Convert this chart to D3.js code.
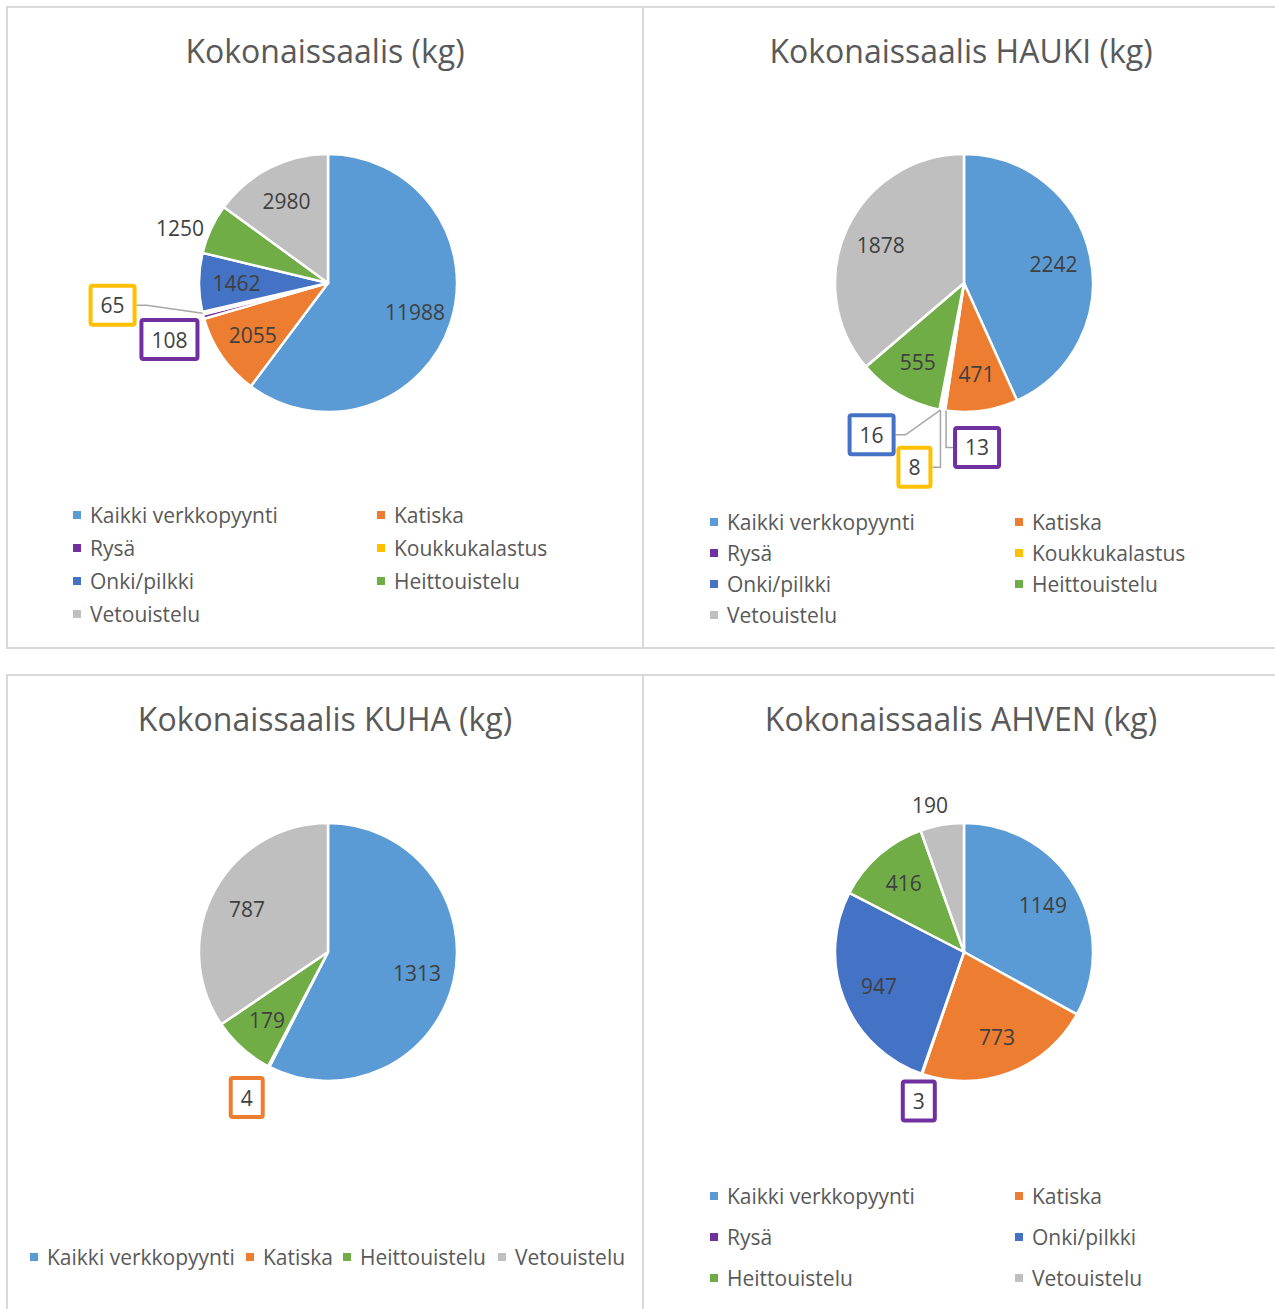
<!DOCTYPE html>
<html>
<head>
<meta charset="utf-8">
<script src="https://cdn.jsdelivr.net/npm/d3@7"></script>
<style>
  body { margin: 0; background: #ffffff; }
  svg text { font-family: "Open Sans", sans-serif; }
</style>
</head>
<body>
<svg id="chart" width="1275" height="1309"></svg>
<script>
// categories and colors shared by all four pies
const categories = [
  "Kaikki verkkopyynti",
  "Katiska",
  "Rysä",
  "Koukkukalastus",
  "Onki/pilkki",
  "Heittouistelu",
  "Vetouistelu",
];
const categoryColors = [
  "#5b9bd5",
  "#ed7d31",
  "#7030a0",
  "#ffc000",
  "#4472c4",
  "#70ad47",
  "#bfbfbf",
];

// values per chart (null = category not in chart)
const totalValues = [11988, 2055, 108, 65, 1462, 1250, 2980];
const haukiValues = [2242, 471, 13, 8, 16, 555, 1878];
const kuhaValues = [1313, 4, null, null, null, 179, 787];
const ahvenValues = [1149, 773, 3, null, 947, 416, 190];

const titles = [
  "Kokonaissaalis (kg)",
  "Kokonaissaalis HAUKI (kg)",
  "Kokonaissaalis KUHA (kg)",
  "Kokonaissaalis AHVEN (kg)",
];

const svg = d3.select("#chart");
const radius = 129;

// panel layout
const panels = [
  {
    values: totalValues,
    title: titles[0],
    box: [7, 7, 636, 641],
    cx: 328,
    cy: 283,
    legend: { cols: [77, 381], rows: [515, 548, 581, 614], order: [0, 1, 2, 3, 4, 5, 6] },
    // callouts: offset of label center from slice edge point
    callouts: {
      2: { dx: -34, dy: 23, box: true },
      3: { dx: -90, dy: -8, box: true, leader: "elbow" },
      5: { dx: -31, dy: -1, box: false },
    },
  },
  {
    values: haukiValues,
    title: titles[1],
    box: [643, 7, 633, 641],
    cx: 964,
    cy: 283,
    legend: { cols: [714, 1019], rows: [522, 553, 584, 615], order: [0, 1, 2, 3, 4, 5, 6] },
    callouts: {
      2: { dx: 33, dy: 37, box: true, leader: "down", lx: 2 },
      3: { dx: -28, dy: 57, box: true, leader: "down", lx: -2 },
      4: { dx: -69, dy: 25, box: true, leader: "elbow" },
    },
  },
  {
    values: kuhaValues,
    title: titles[2],
    box: [7, 675, 636, 636],
    cx: 328,
    cy: 952,
    legend: {
      inline: [34, 250, 347, 502],
      rows: [1257],
      order: [0, 1, 5, 6],
    },
    callouts: {
      1: { dx: -22, dy: 31, box: true },
    },
  },
  {
    values: ahvenValues,
    title: titles[3],
    box: [643, 675, 633, 636],
    cx: 964,
    cy: 952,
    legend: { cols: [714, 1019], rows: [1196, 1237, 1278], order: [0, 1, 2, 4, 5, 6] },
    callouts: {
      2: { dx: -3, dy: 27, box: true },
      6: { dx: -12, dy: -20, box: false },
    },
  },
];

const pie = d3
  .pie()
  .value((d) => d.value)
  .sort(null);

const arc = d3.arc().innerRadius(0).outerRadius(radius);
const labelArc = d3
  .arc()
  .innerRadius(radius * 0.71)
  .outerRadius(radius * 0.71);

panels.forEach((p) => {
  const g = svg.append("g");

  // panel frame
  g.append("rect")
    .attr("x", p.box[0])
    .attr("y", p.box[1])
    .attr("width", p.box[2])
    .attr("height", p.box[3])
    .attr("fill", "#ffffff")
    .attr("stroke", "#d9d9d9")
    .attr("stroke-width", 2);

  // title
  g.append("text")
    .attr("x", p.cx - 3)
    .attr("y", p.box[1] + 43)
    .attr("text-anchor", "middle")
    .attr("dominant-baseline", "central")
    .attr("font-size", "32px")
    .attr("fill", "#595959")
    .text(p.title);

  const data = p.values
    .map((v, i) => ({ value: v, index: i }))
    .filter((d) => d.value !== null);

  const pieG = g.append("g").attr("transform", `translate(${p.cx},${p.cy})`);
  const arcs = pie(data);

  pieG
    .selectAll("path")
    .data(arcs)
    .enter()
    .append("path")
    .attr("d", arc)
    .attr("fill", (d) => categoryColors[d.data.index])
    .attr("stroke", "#ffffff")
    .attr("stroke-width", 2.5)
    .attr("stroke-linejoin", "round");

  arcs.forEach((d) => {
    const c = p.callouts[d.data.index];
    const label = String(d.data.value);
    if (!c) {
      const [x, y] = labelArc.centroid(d);
      pieG
        .append("text")
        .attr("x", x)
        .attr("y", y)
        .attr("text-anchor", "middle")
        .attr("dominant-baseline", "central")
        .attr("font-size", "21px")
        .attr("fill", "#404040")
        .text(label);
      return;
    }
    // slice edge point
    const mid = (d.startAngle + d.endAngle) / 2;
    const ex = Math.sin(mid) * radius;
    const ey = -Math.cos(mid) * radius;
    const lx = ex + c.dx;
    const ly = ey + c.dy;

    const t = pieG
      .append("text")
      .attr("x", lx)
      .attr("y", ly)
      .attr("text-anchor", "middle")
      .attr("dominant-baseline", "central")
      .attr("font-size", "21px")
      .attr("fill", "#404040")
      .text(label);

    if (c.box) {
      const w = Math.max(t.node().getComputedTextLength() + 20, 31);
      const h = 39;
      if (c.leader === "elbow") {
        pieG
          .append("polyline")
          .attr("points", `${lx + w / 2 + 2},${ly} ${lx + w / 2 + 12},${ly} ${ex},${ey}`)
          .attr("fill", "none")
          .attr("stroke", "#a6a6a6")
          .attr("stroke-width", 1.5);
      } else if (c.leader === "down") {
        const vx = ex + c.lx;
        const side = lx > vx ? -1 : 1;
        pieG
          .append("polyline")
          .attr("points", `${vx},${ey} ${vx},${ly} ${lx + side * (w / 2 + 2)},${ly}`)
          .attr("fill", "none")
          .attr("stroke", "#a6a6a6")
          .attr("stroke-width", 1.5);
      }
      pieG
        .append("rect")
        .attr("x", lx - w / 2)
        .attr("y", ly - h / 2)
        .attr("width", w)
        .attr("height", h)
        .attr("rx", 2)
        .attr("fill", "#ffffff")
        .attr("stroke", categoryColors[d.data.index])
        .attr("stroke-width", 4);
      t.raise();
    }
  });

  // legend
  const lg = p.legend;
  lg.order.forEach((ci, k) => {
    let x, y;
    if (lg.inline) {
      x = lg.inline[k];
      y = lg.rows[0];
    } else {
      x = lg.cols[k % 2];
      y = lg.rows[Math.floor(k / 2)];
    }
    g.append("rect")
      .attr("x", x - 4)
      .attr("y", y - 4)
      .attr("width", 8)
      .attr("height", 8)
      .attr("fill", categoryColors[ci]);
    g.append("text")
      .attr("x", x + 13)
      .attr("y", y)
      .attr("dominant-baseline", "central")
      .attr("font-size", "21px")
      .attr("fill", "#595959")
      .text(categories[ci]);
  });
});
</script>
</body>
</html>
